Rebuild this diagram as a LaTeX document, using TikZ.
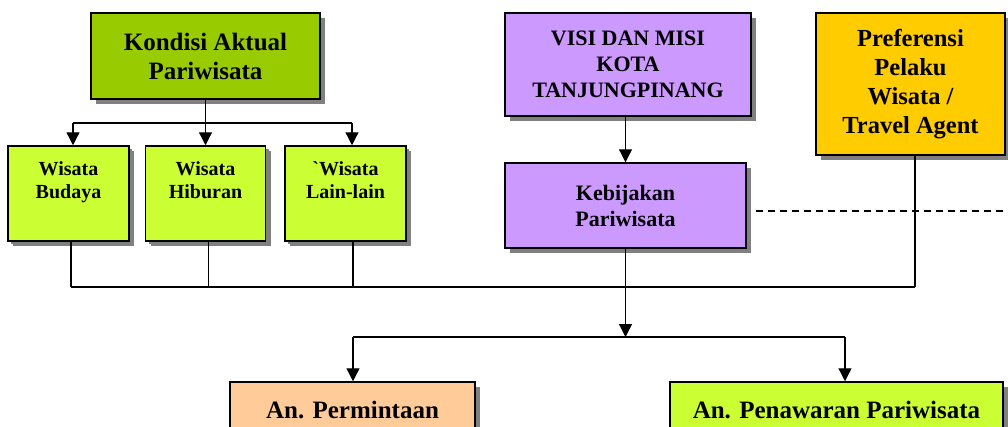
\documentclass[tikz,border=0pt]{standalone}
\usepackage{fontspec}
\setmainfont{Liberation Serif}
\usetikzlibrary{arrows.meta,positioning,shadows}
\definecolor{kondisigreen}{RGB}{153,204,0}
\definecolor{limegreen}{RGB}{204,255,51}
\definecolor{lilac}{RGB}{204,153,255}
\definecolor{amber}{RGB}{255,204,0}
\definecolor{peach}{RGB}{255,204,153}
\definecolor{shadowgray}{RGB}{128,128,128}

\begin{document}
\begin{tikzpicture}[
  x=1pt, y=-1pt,
  box/.style={rectangle, draw=black, line width=1.5pt, align=center, inner sep=0pt,
    font=\bfseries, drop shadow={shadow xshift=5pt, shadow yshift=-5pt, fill=shadowgray, opacity=1}},
  mainbox/.style={box, fill=kondisigreen, minimum width=229pt, minimum height=86pt,
    font=\bfseries\fontsize{25}{29}\selectfont},
  smallbox/.style={box, fill=limegreen, minimum width=121pt, minimum height=95pt,
    drop shadow={shadow xshift=3pt, shadow yshift=-3pt, fill=shadowgray, opacity=1}},
  smalltext/.style={anchor=north, align=center, inner sep=0pt, font=\bfseries\fontsize{20}{23}\selectfont},
  policy/.style={box, fill=lilac, font=\bfseries\fontsize{22}{26}\selectfont},
  pref/.style={box, fill=amber, minimum width=189pt, minimum height=142pt,
    font=\bfseries\fontsize{24.5}{29}\selectfont},
  result/.style={box, minimum height=56pt, font=\bfseries\fontsize{25}{29}\selectfont},
  line/.style={line width=1.3pt},
  arr/.style={line, -{Triangle[width=13pt,length=13pt]}},
  dashline/.style={line width=1.1pt, dash pattern=on 7pt off 5pt}
]
\path[use as bounding box, clip] (0,0) rectangle (1008,426);

% kondisi aktual
\node[mainbox] (kondisi) at (205.5,56) {Kondisi Aktual\\Pariwisata};
\node[smallbox] (budaya) at (68.5,193.5) {};
\node[smallbox, minimum width=120pt, right=15pt of budaya] (hiburan) {};
\node[smallbox, right=18pt of hiburan] (lainlain) {};
\node[smalltext] (budayatxt) at ([yshift=-16pt]budaya.north) {Wisata\\Budaya};
\node[smalltext] (hiburantxt) at ([yshift=-16pt]hiburan.north) {Wisata\\Hiburan};
\node[smalltext] (lainlaintxt) at ([yshift=-16pt]lainlain.north) {\textasciigrave Wisata\\Lain-lain};

% visi dan kebijakan
\node[policy, minimum width=246pt, minimum height=103pt] (visi) at (628,64.5) {VISI DAN MISI\\KOTA\\TANJUNGPINANG};
\node[policy, minimum width=241pt, minimum height=85pt] (kebijakan) at (625.5,205.5) {Kebijakan\\Pariwisata};
\node[pref] (preferensi) at (910.5,84) {Preferensi\\Pelaku\\Wisata /\\Travel Agent};

% analisis
\node[result, fill=peach, minimum width=245pt] (permintaan) at (352.5,410) {An. Permintaan};
\node[result, fill=limegreen, minimum width=333pt] (penawaran) at (836.5,410) {An. Penawaran Pariwisata};

% kondisi -> jenis wisata
\coordinate (splitL) at (73,123);
\coordinate (splitR) at (352,123);
\draw[line] (splitL) -- (splitR);
\draw[arr] (kondisi.south) -- (kondisi.south |- hiburan.north);
\draw[arr] (splitL) -- (splitL |- budaya.north);
\draw[arr] (splitR) -- (splitR |- lainlain.north);
\draw[arr] (visi.south -| kebijakan.north) -- (kebijakan.north);

% bus
\coordinate (busL) at (71,287);
\coordinate (busR) at (915,287);
\draw[line] (busL) -- (busR);
\draw[line] (busL |- budaya.south) -- (busL);
\draw[line] ([xshift=3pt]hiburan.south) -- ([xshift=3pt]hiburan.south |- busL);
\draw[line] ([xshift=7.5pt]lainlain.south) -- ([xshift=7.5pt]lainlain.south |- busL);
\draw[line] (kebijakan.south) -- (kebijakan.south |- busL);
\draw[line] (busR |- preferensi.south) -- (busR);

% dashed link
\coordinate (dashEnd) at (1008,211);
\draw[dashline] ([xshift=9pt]kebijakan.east |- dashEnd) -- (dashEnd);

% branch to analisis
\coordinate (branchL) at (353,337);
\coordinate (branchR) at (845,337);
\draw[line] (branchL) -- (branchR);
\draw[arr] (kebijakan.south |- busL) -- (kebijakan.south |- branchL);
\draw[arr] (branchL) -- (branchL |- permintaan.north);
\draw[arr] (branchR) -- (branchR |- penawaran.north);
\end{tikzpicture}
\end{document}
